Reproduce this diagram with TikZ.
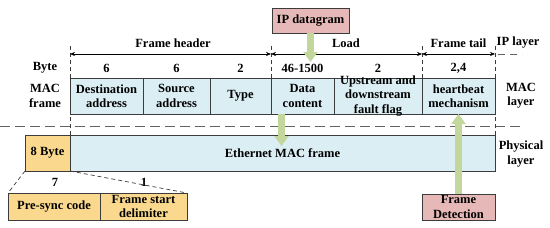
\documentclass[tikz,border=0pt]{standalone}
\usepackage{fontspec}
\setmainfont{Liberation Serif}
\usepackage{xcolor}
\usepackage{tikz}
\usetikzlibrary{positioning, arrows.meta}
\definecolor{cellblue}{HTML}{DAEEF3}
\definecolor{cellgold}{HTML}{FAD98E}
\definecolor{cellpink}{HTML}{E6B9B8}
\definecolor{arrgreen}{HTML}{C3D69B}
\definecolor{edgegray}{HTML}{3C3C3C}

\begin{document}
\begin{tikzpicture}[
  x=1pt, y=-1pt,
  node distance=0pt,
  every node/.style={font=\bfseries\fontsize{12.5}{14.3}\selectfont, align=center,
                     inner sep=0pt, outer sep=0pt},
  cell/.style={rectangle, draw=edgegray, line width=0.8pt, fill=cellblue,
               minimum height=36pt},
  gold/.style={cell, fill=cellgold},
  pinkbox/.style={cell, fill=cellpink, minimum height=26pt},
  span/.style={{Stealth[length=5pt,width=4pt]}-{Stealth[length=5pt,width=4pt]}, line width=0.6pt},
  vguide/.style={dash pattern=on 4pt off 3pt, line width=0.7pt, draw=edgegray},
  hguide/.style={dash pattern=on 10pt off 5pt, line width=0.8pt, draw=edgegray!80},
  bigarrow/.style={-{Triangle[length=10pt,width=14pt]}, line width=7pt, draw=arrgreen}
]
\useasboundingbox (0,0) rectangle (550,228);
% ── MAC frame row ──────────────────────────────
\node[cell, minimum width=73pt, anchor=north west] (dst) at (70,78) {Destination\\address};
\node[cell, minimum width=67pt, right=of dst] (src) {Source\\address};
\node[cell, minimum width=61pt, right=of src] (typ) {Type};
\node[cell, minimum width=63pt, right=of typ] (dat) {Data\\content};
\node[cell, minimum width=88pt, right=of dat] (flg) {};
\node at (flg) {Upstream and\\downstream\\fault flag};
\node[cell, minimum width=73pt, right=of flg] (hb) {heartbeat\\mechanism};
% ── byte counts ────────────────────────────────
\node (byte) at (45,68) {Byte};
\node (macf) at (45,96) {MAC\\frame};
\node at (dst |- byte) {6};
\node at (src |- byte) {6};
\node at (typ |- byte) {2};
\node at (dat |- byte) {46-1500};
\node at (flg |- byte) {2};
\node at (hb |- byte) {2,4};
% ── field spans ────────────────────────────────
\coordinate (arrY) at (0,54);
\coordinate (topY) at (0,45);
\foreach \a in {dst.north west, typ.north east, flg.north east, hb.north east}
  \draw[vguide] (\a) -- (\a |- topY);
\draw[span] (dst.north west |- arrY) -- (typ.north east |- arrY);
\draw[span] (typ.north east |- arrY) -- (flg.north east |- arrY);
\draw[span] (flg.north east |- arrY) -- (hb.north east |- arrY);
\node (hdr) at (173,43) {Frame header};
\node (load) at (346,43) {Load};
\node (tail) at (hb |- hdr) {Frame tail};
\node (ipl) at (518,43) {IP layer};
\node (macl) at (521,96) {MAC\\layer};
\draw[hguide, dash pattern=on 7pt off 5pt] (hb.north east |- arrY) ++(3,0) -- ++(24,0);
% ── IP datagram ────────────────────────────────
\node[pinkbox, minimum width=77pt, minimum height=25pt, anchor=north] (ip) at (310.5,8) {IP datagram};
\draw[bigarrow] (ip.south) -- ++(0,29);
% ── layer boundary ─────────────────────────────
\draw[hguide] (0,126) -- (520,126);
% ── Physical layer ─────────────────────────────
\node[gold, minimum width=45pt, anchor=north west] (pre8) at (25,135) {8 Byte};
\node[cell, minimum width=425pt, right=of pre8] (eth) {Ethernet MAC frame};
\draw[vguide] (pre8.north east) -- (dst.south west);
\draw[vguide] (eth.north east) -- (hb.south east);
\node (phyl) at (521,154) {Physical\\layer};
\draw[bigarrow] ([xshift=-21pt]dat.south) -- ++(0,32);
% ── preamble fields ────────────────────────────
\node[gold, minimum width=92pt, minimum height=27pt, anchor=north west] (psc) at (8,193) {Pre-sync code};
\node[gold, minimum width=87pt, minimum height=27pt, right=of psc] (sfd) {Frame start\\delimiter};
\draw[vguide] (pre8.south west) -- (psc.north west);
\draw[vguide] (pre8.south east) -- (sfd.north east);
\node at (55,182) {7};
\node at (144,182) {1};
% ── frame detection ────────────────────────────
\node[pinkbox, minimum width=73pt, anchor=north] (fd) at (458.5,194) {Frame\\Detection};
\draw[bigarrow] (fd.north) -- (hb.south);
\end{tikzpicture}
\end{document}
